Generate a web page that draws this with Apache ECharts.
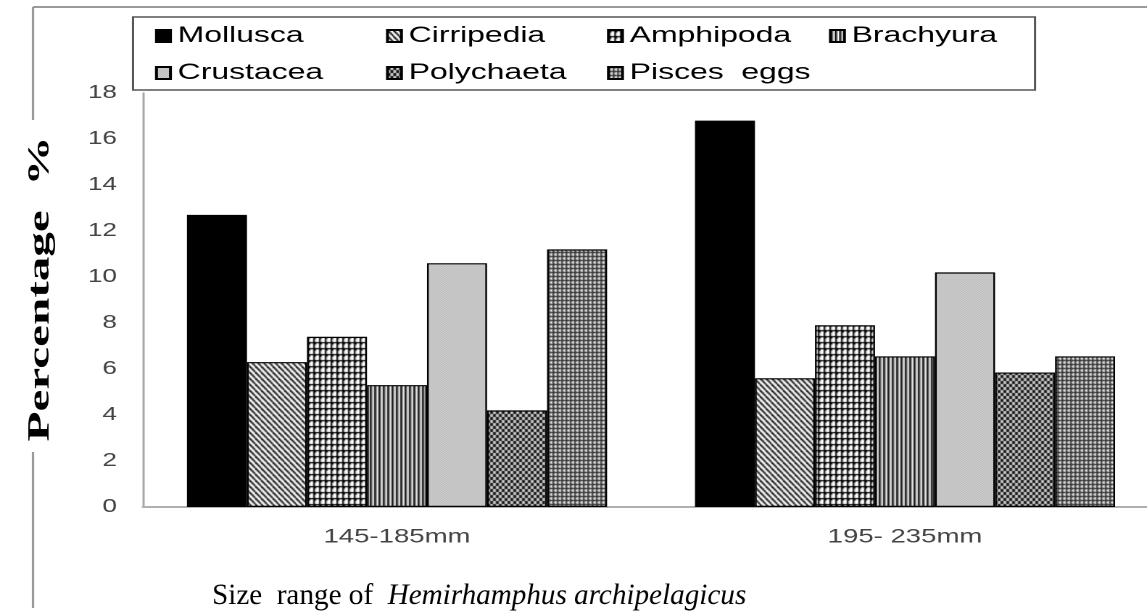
<!DOCTYPE html>
<html>
<head>
<meta charset="utf-8">
<script src="https://cdn.jsdelivr.net/npm/echarts@6/dist/echarts.min.js"></script>
<style>
  html, body { margin: 0; padding: 0; background: #fff; overflow: hidden; }
  /* the original figure is stretched sideways, so the chart is drawn narrow and scaled */
  #main { width: 820px; height: 613px; transform: scaleX(1.45); transform-origin: 0 0; }
</style>
</head>
<body>
<div id="main"></div>
<script>
// categories and values
const sizeRanges = ['145-185mm', '195- 235mm']
const preyNames = ['Mollusca', 'Cirripedia', 'Amphipoda', 'Brachyura', 'Crustacea', 'Polychaeta', 'Pisces  eggs']
const mollusca = [12.7, 16.8]
const cirripedia = [6.3, 5.6]
const amphipoda = [7.4, 7.9]
const brachyura = [5.3, 6.55]
const crustacea = [10.6, 10.2]
const polychaeta = [4.2, 5.85]
const piscesEggs = [11.2, 6.55]
const yTicks = { min: 0, max: 18, step: 2 }

const S = 1.45
const cx = x => x / S

// small canvas tiles for the hatch fills
function tile(w, h, draw) {
  const c = document.createElement('canvas')
  c.width = w
  c.height = h
  const g = c.getContext('2d')
  draw(g, w, h)
  return { image: c, repeat: 'repeat' }
}

const fills = [
  '#000',
  tile(4, 6, (g, w, h) => {
    g.fillStyle = '#fff'; g.fillRect(0, 0, w, h)
    g.strokeStyle = '#000'; g.lineWidth = 1.3
    for (let k = -1; k <= 1; k++) {
      g.beginPath(); g.moveTo(k * w, 0); g.lineTo(k * w + w, h); g.stroke()
    }
  }),
  tile(4, 6, (g, w, h) => {
    g.fillStyle = '#fff'; g.fillRect(0, 0, w, h)
    g.fillStyle = '#000'
    g.fillRect(0, 0, w, 1.3)
    g.fillRect(0, 0, 1.2, h)
    g.fillRect(0, 0, 2, 2.5)
  }),
  tile(3, 4, (g, w, h) => {
    g.fillStyle = '#fff'; g.fillRect(0, 0, w, h)
    g.fillStyle = '#000'; g.fillRect(0, 0, 1, h)
    g.fillStyle = '#808080'; g.fillRect(1, 0, 1, h)
  }),
  tile(2, 2, (g, w, h) => {
    g.fillStyle = '#dcdcdc'; g.fillRect(0, 0, w, h)
    g.fillStyle = '#b0b0b0'; g.fillRect(0, 0, 1, 1); g.fillRect(1, 1, 1, 1)
  }),
  tile(4, 6, (g, w, h) => {
    g.fillStyle = '#c8c8c8'; g.fillRect(0, 0, w, h)
    g.fillStyle = '#1a1a1a'; g.fillRect(0, 0, 2, 3); g.fillRect(2, 3, 2, 3)
  }),
  tile(3, 4, (g, w, h) => {
    g.fillStyle = '#8a8a8a'; g.fillRect(0, 0, w, h)
    g.fillStyle = '#e0e0e0'; g.fillRect(0, 2, w, 1); g.fillRect(2, 0, 1, h)
    g.fillStyle = '#333'; g.fillRect(0, 0, w, 1); g.fillRect(0, 0, 1, h)
  })
]

const values = [mollusca, cirripedia, amphipoda, brachyura, crustacea, polychaeta, piscesEggs]
const series = preyNames.map((name, i) => ({
  name: name,
  type: 'bar',
  data: values[i],
  barGap: '0%',
  barCategoryGap: '17.3%',
  itemStyle: { color: fills[i], borderColor: '#000', borderWidth: 1.2 }
}))

// legend is laid out in columns, like the original
const legendCols = [
  { left: 155, names: ['Mollusca', 'Crustacea'] },
  { left: 386, names: ['Cirripedia', 'Polychaeta'] },
  { left: 607, names: ['Amphipoda', 'Pisces  eggs'] },
  { left: 829, names: ['Brachyura'] }
]
const legends = legendCols.map(col => ({
  orient: 'vertical',
  left: cx(col.left),
  top: 24,
  padding: 0,
  itemWidth: cx(14),
  itemHeight: 12,
  itemGap: 13,
  icon: 'rect',
  selectedMode: false,
  data: col.names,
  textStyle: { color: '#000', fontSize: 22, fontFamily: 'Liberation Sans', lineHeight: 24 }
}))

const chart = echarts.init(document.getElementById('main'), null, { devicePixelRatio: 2 })
chart.setOption({
  animation: false,
  backgroundColor: '#fff',
  legend: legends,
  grid: { left: cx(143), right: 820 - cx(1159), top: 93, bottom: 106 },
  xAxis: {
    type: 'category',
    data: sizeRanges,
    axisLine: { lineStyle: { color: '#b0b0b0', width: 2 } },
    axisTick: { show: false },
    axisLabel: { color: '#444', fontSize: 19, fontFamily: 'Liberation Sans', margin: 21 }
  },
  yAxis: {
    type: 'value',
    min: yTicks.min,
    max: yTicks.max,
    interval: yTicks.step,
    axisLine: { show: true, lineStyle: { color: '#a8a8a8', width: 1.5 } },
    axisTick: { show: false },
    splitLine: { show: false },
    axisLabel: { color: '#444', fontSize: 18, fontFamily: 'Liberation Sans', margin: cx(26) }
  },
  series: series,
  graphic: [
    // outer frame pieces
    { type: 'line', shape: { x1: cx(33), y1: 7, x2: 820, y2: 7 }, style: { stroke: '#9a9a9a', lineWidth: 2 } },
    { type: 'line', shape: { x1: cx(33), y1: 7, x2: cx(33), y2: 120 }, style: { stroke: '#9a9a9a', lineWidth: 1.6 } },
    { type: 'line', shape: { x1: cx(33), y1: 452, x2: cx(33), y2: 608 }, style: { stroke: '#9a9a9a', lineWidth: 1.6 } },
    // legend box
    { type: 'rect', shape: { x: cx(133), y: 17, width: cx(1035 - 133), height: 73 }, style: { fill: 'none', stroke: '#555', lineWidth: 1.5 }, z: 10 },
    // axis titles
    {
      type: 'text', x: cx(41), y: 289, rotation: Math.PI / 2, scaleX: 1.64, scaleY: 0.69,
      style: { text: 'Percentage  %', font: 'bold 30px "Liberation Serif"', fill: '#000', align: 'center', verticalAlign: 'middle' }
    },
    {
      type: 'text', x: cx(212), y: 596, scaleX: 0.67,
      style: {
        text: '{a|Size  range of  }{b|Hemirhamphus archipelagicus}',
        verticalAlign: 'middle',
        rich: {
          a: { font: '30px "Liberation Serif"', fill: '#000' },
          b: { font: 'italic 30px "Liberation Serif"', fill: '#000' }
        }
      }
    }
  ]
})
</script>
</body>
</html>
